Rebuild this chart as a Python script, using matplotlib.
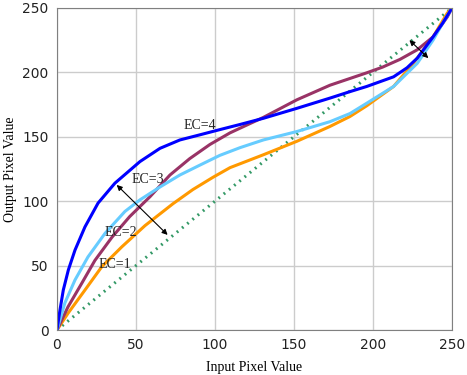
#libraries
import matplotlib
matplotlib.use('Agg')
import matplotlib.pyplot as plt
import numpy as np

#curve samples (input value, output value)
x_ec4 = [0, 1.9, 4, 7.2, 11.4, 17.7, 26, 36.7, 52.5, 65.2, 77.8, 90.5, 103, 115.8, 130.6, 151.7, 172.8, 185.4, 196, 213, 221.5, 228, 238, 244, 250]
y_ec4 = [0, 15.5, 31, 46.6, 62, 80, 98.5, 114, 130.7, 141, 147.5, 151.5, 155.5, 159.5, 164.3, 172, 180, 185, 189, 196.5, 203.5, 211, 227.5, 238, 250]

x_ec3 = [0, 5, 11.4, 19.6, 30.4, 43, 52.5, 65.2, 77.8, 90.5, 103, 115.8, 130.6, 151.7, 172.8, 185.4, 196, 213, 228, 238, 244, 250]
y_ec3 = [0, 21, 38.8, 56.7, 75, 92, 101, 111, 120.3, 128, 135.5, 141.5, 147.5, 154, 161.7, 168, 176, 189, 207, 225, 238, 250]

x_ec2 = [0, 7, 15.8, 24, 34.8, 46, 58.9, 71.5, 84, 96.8, 109.5, 120, 130.6, 151.7, 172.8, 196, 206, 217, 228, 238, 247, 250]
y_ec2 = [0, 18, 36.5, 54, 72, 88, 103.5, 120.3, 133, 144, 153, 159, 165, 178.6, 190, 199.6, 204, 210, 217.5, 227.5, 243, 250]

x_ec1 = [0, 7, 17.7, 28.3, 41, 55.7, 73.4, 86, 98.7, 109.5, 130.6, 151.7, 172.8, 185.4, 196, 213, 225.5, 238, 247, 250]
y_ec1 = [0, 13, 31, 49, 64.5, 81, 98, 109, 118.5, 126, 136, 146.4, 158, 165.7, 174, 189, 207, 227.5, 246, 250]

x_id = [0, 250]
y_id = [0, 250]

labels = ['EC=1', 'EC=2', 'EC=3', 'EC=4']
label_x = [36.7, 40.5, 57.5, 90.5]
label_y = [50.5, 76, 117, 159]

ticks = [0, 50, 100, 150, 200, 250]

#figure
fig = plt.figure(figsize=(4.67, 3.75), dpi=100)
ax = fig.add_axes([0.122, 0.12, 0.846, 0.859])

ax.plot(x_id, y_id, color='#339966', lw=2.2, linestyle=(0, (0.6, 1.6)), dash_capstyle='butt')
ax.plot(x_ec1, y_ec1, color='#ff9900', lw=2.2, solid_joinstyle='round')
ax.plot(x_ec2, y_ec2, color='#993366', lw=2.2, solid_joinstyle='round')
ax.plot(x_ec3, y_ec3, color='#66ccff', lw=2.2, solid_joinstyle='round')
ax.plot(x_ec4, y_ec4, color='#0000ff', lw=2.2, solid_joinstyle='round')

for t, tx, ty in zip(labels, label_x, label_y):
    ax.text(tx, ty, t, fontsize=10, family='Liberation Serif', ha='center', va='center', color='#222222')

#double arrows
ax.annotate('', xy=(37.8, 112.6), xytext=(70, 73.8),
            arrowprops=dict(arrowstyle='<|-|>', color='black', lw=0.8, mutation_scale=8, shrinkA=0, shrinkB=0))
ax.annotate('', xy=(223, 225), xytext=(235, 211),
            arrowprops=dict(arrowstyle='<|-|>', color='black', lw=0.8, mutation_scale=8, shrinkA=0, shrinkB=0))

ax.set_xlim(0, 250)
ax.set_ylim(0, 250)
ax.set_xticks(ticks)
ax.set_yticks(ticks)
ax.grid(True, color='#cccccc', lw=1)
ax.set_axisbelow(True)
ax.tick_params(length=0, labelsize=10, labelcolor='#222222', pad=6)
for s in ax.spines.values():
    s.set_color('#808080')

ax.set_xlabel('Input Pixel Value', family='Liberation Serif', fontsize=10, labelpad=6)
ax.set_ylabel('Output Pixel Value', family='Liberation Serif', fontsize=10, labelpad=4)

fig.savefig('out.png', dpi=100)
